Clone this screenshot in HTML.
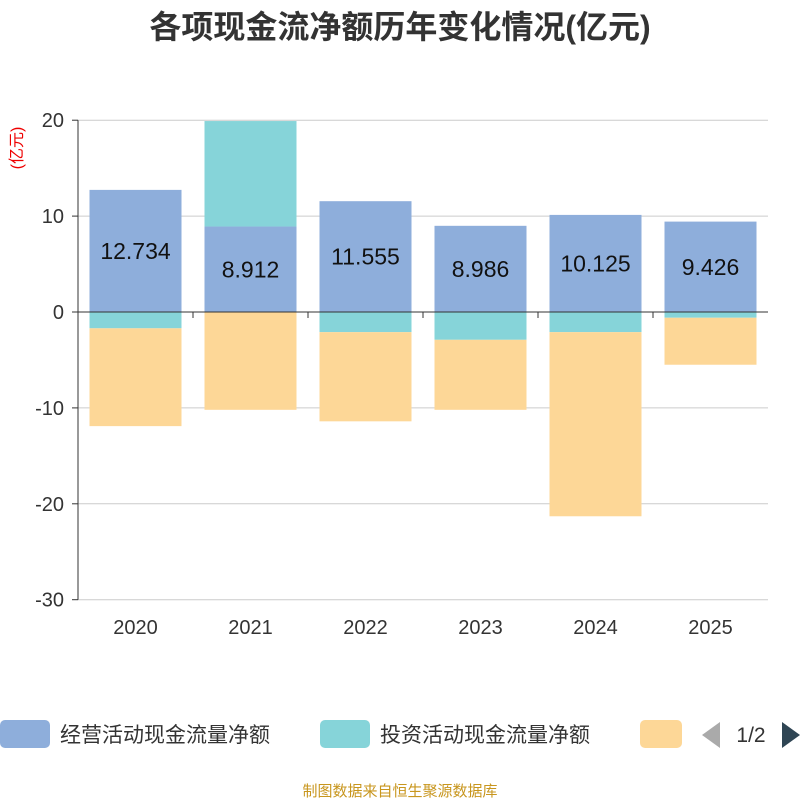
<!DOCTYPE html>
<html><head><meta charset="utf-8"><style>
body{margin:0;width:800px;height:800px;background:#fff;font-family:"Liberation Sans","Noto Sans CJK SC",sans-serif;overflow:hidden}
</style></head><body>
<svg width="800" height="800" id="chart" font-family="Liberation Sans, Noto Sans CJK SC, sans-serif">
<text x="400" y="38" text-anchor="middle" font-size="32" font-weight="bold" fill="#333">各项现金流净额历年变化情况(亿元)</text>
<text transform="translate(22,148) rotate(-90)" text-anchor="middle" font-size="16" fill="#e00">(亿元)</text>
<g id="grid"></g><g id="bars"></g><g id="axes"></g>
<g>
<rect x="0" y="720" width="50" height="28" rx="5" fill="#8eaedb"/>
<text x="60" y="742" font-size="21" fill="#333">经营活动现金流量净额</text>
<rect x="320" y="720" width="50" height="28" rx="5" fill="#86d4d9"/>
<text x="380" y="742" font-size="21" fill="#333">投资活动现金流量净额</text>
<rect x="640" y="720" width="42" height="28" rx="5" fill="#fdd797"/>
<path d="M720 722 L702 735 L720 748Z" fill="#aaa"/>
<text x="751" y="742" text-anchor="middle" font-size="21" fill="#333">1/2</text>
<path d="M782 722 L800 735 L782 748Z" fill="#2f4554"/>
</g>
<text x="400" y="796" text-anchor="middle" font-size="15" fill="#c8961e">制图数据来自恒生聚源数据库</text>
</svg>
<script>
const years=["2020","2021","2022","2023","2024","2025"];
const operating=[12.734,8.912,11.555,8.986,10.125,9.426];
const investing=[-1.7,11.0,-2.1,-2.9,-2.1,-0.6];
const financing=[-10.2,-10.2,-9.3,-7.3,-19.2,-4.9];
const ticks=[20,10,0,-10,-20,-30];
const NS="http://www.w3.org/2000/svg";
const x0=78,x1=768,band=(x1-x0)/years.length,bw=92;
const y=v=>312-v*9.59;
function mk(tag,attrs,parent){const e=document.createElementNS(NS,tag);for(const k in attrs)e.setAttribute(k,attrs[k]);document.getElementById(parent).appendChild(e);return e;}
ticks.forEach(t=>{
 const g=mk("line",{x1:x0,x2:x1,y1:y(t),y2:y(t),stroke:"#ccc","stroke-width":1},"grid");
 
 
 const tk=mk("line",{x1:x0-6,x2:x0,y1:y(t),y2:y(t),stroke:"#333"},"axes");
 
 
 const l=mk("text",{x:x0-14,y:y(t)+7,"text-anchor":"end","font-size":20,fill:"#333"},"axes");
 l.textContent=t;
 
 
});
const ya=mk("line",{x1:x0,x2:x0,y1:y(20),y2:y(-30),stroke:"#333"},"axes");


const xa=mk("line",{x1:x0,x2:x1,y1:y(0),y2:y(0),stroke:"#333"},"axes");


years.forEach((yr,i)=>{
 const cx=x0+band*(i+0.5);
 const tk=mk("line",{x1:x0+band*i,x2:x0+band*i,y1:y(0),y2:y(0)+6,stroke:"#333"},"axes");
 
 
 const l=mk("text",{x:cx,y:634,"text-anchor":"middle","font-size":20,fill:"#333"},"axes");
 l.textContent=yr;
 
 
 let pos=0,neg=0;
 [[operating,"#8eaedb","operating"],[investing,"#86d4d9","investing"],[financing,"#fdd797","financing"]].forEach(([arr,c,n])=>{
  const v=arr[i];let a,b;
  if(v>=0){a=pos;b=pos+v;pos=b;}else{a=neg;b=neg+v;neg=b;}
  const r=mk("rect",{x:cx-bw/2,width:bw,y:Math.min(y(a),y(b)),height:Math.abs(y(a)-y(b)),fill:c},"bars");
  
  
 });
 const vl=mk("text",{x:cx,y:(y(0)+y(operating[i]))/2+8,"text-anchor":"middle","font-size":23,fill:"#111"},"bars");
 vl.textContent=operating[i];
 
 
});
</script>
</body></html>
